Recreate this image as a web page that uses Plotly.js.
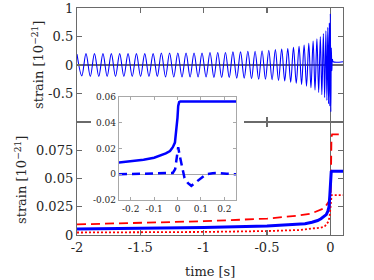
<!DOCTYPE html>
<html>
<head>
<meta charset="utf-8">
<script src="https://cdn.plot.ly/plotly-3.0.1.min.js"></script>
<style>html,body{margin:0;padding:0;background:#fff;}#chart{width:374px;height:280px;}</style>
</head>
<body>
<div id="chart"></div>
<script>
// ---- top panel: waveform extrema (time [s], strain [1e-21]) ----
const waveTime = [
  -2.000, -1.962, -1.929, -1.895, -1.862, -1.828, -1.795, -1.762, -1.729, -1.696,
  -1.663, -1.630, -1.597, -1.564, -1.531, -1.498, -1.465, -1.432, -1.399, -1.366,
  -1.334, -1.301, -1.269, -1.236, -1.204, -1.171, -1.139, -1.107, -1.076, -1.044,
  -1.013, -0.981, -0.950, -0.919, -0.889, -0.858, -0.828, -0.798, -0.769, -0.739,
  -0.709, -0.680, -0.651, -0.622, -0.594, -0.566, -0.539, -0.512, -0.486, -0.460,
  -0.434, -0.409, -0.384, -0.360, -0.336, -0.313, -0.291, -0.269, -0.247, -0.227,
  -0.207, -0.188, -0.170, -0.153, -0.136, -0.121, -0.106, -0.092, -0.079, -0.067,
  -0.055, -0.045, -0.035, -0.027, -0.020, -0.014, -0.008, -0.004, 0.000, 0.004,
  0.008, 0.012, 0.016, 0.022, 0.100
];
const waveStrain = [
  0.19, -0.19, 0.20, -0.20, 0.20, -0.20, 0.20, -0.20, 0.20, -0.20,
  0.20, -0.20, 0.20, -0.20, 0.20, -0.20, 0.20, -0.20, 0.20, -0.20,
  0.21, -0.21, 0.21, -0.21, 0.21, -0.21, 0.21, -0.21, 0.21, -0.21,
  0.21, -0.21, 0.22, -0.22, 0.22, -0.22, 0.22, -0.22, 0.23, -0.23,
  0.23, -0.23, 0.24, -0.24, 0.24, -0.25, 0.25, -0.25, 0.26, -0.26,
  0.27, -0.27, 0.28, -0.28, 0.29, -0.30, 0.31, -0.32, 0.33, -0.34,
  0.35, -0.37, 0.38, -0.40, 0.42, -0.44, 0.46, -0.48, 0.50, -0.52,
  0.55, -0.57, 0.60, -0.62, 0.66, -0.68, 0.74, -0.72, 0.90, -0.82,
  0.30, -0.10, 0.10, 0.057, 0.057
];

// ---- bottom panel / inset: memory curves ----
const solidTime = [-2, -1.5, -1, -0.5, -0.25, -0.2, -0.145, -0.1, -0.074, -0.05, -0.032, -0.02, -0.011, -0.004, 0, 0.003, 0.007, 0.012, 0.25];
const solidStrain = [0.0053, 0.0059, 0.0067, 0.0079, 0.0092, 0.0100, 0.0113, 0.0128, 0.0144, 0.0162, 0.0180, 0.0210, 0.0246, 0.0350, 0.0440, 0.0530, 0.0560, 0.0565, 0.0565];

const dashTime = [-2, -1.5, -1, -0.5, -0.25, -0.15, -0.08, -0.047, -0.016, -0.005, 0.003, 0.006, 0.009, 0.014, 0.1];
const dashStrain = [0.0094, 0.0106, 0.0122, 0.0145, 0.0172, 0.0190, 0.0220, 0.0238, 0.0290, 0.0310, 0.0360, 0.0700, 0.0870, 0.0890, 0.0890];

const dotTime = [-2, -1.5, -1, -0.5, -0.25, -0.08, -0.047, -0.03, -0.016, -0.006, 0.002, 0.006, 0.01, 0.1];
const dotStrain = [0.0022, 0.0024, 0.0027, 0.0035, 0.0044, 0.0065, 0.0073, 0.0095, 0.0118, 0.0160, 0.0280, 0.0340, 0.0353, 0.0353];

const insetDashTime = [-0.25, -0.15, -0.08, -0.04, -0.02, -0.01, -0.004, 0.0, 0.003, 0.01, 0.02, 0.03, 0.045, 0.059, 0.08, 0.1, 0.122, 0.15, 0.178, 0.21, 0.25];
const insetDashStrain = [0, 0.0002, 0.0005, 0.0008, 0.001, 0.004, 0.011, 0.017, 0.021, 0.014, 0.004, -0.003, -0.007, -0.009, -0.006, -0.003, 0, 0.0008, 0.001, 0.0004, 0];

// ---- tick labels and titles ----
const mainTimeTicks = [-2, -1.5, -1, -0.5, 0];
const mainTimeLabels = ['-2', '-1.5', '-1', '-0.5', '0'];
const topStrainTicks = [-0.5, 0, 0.5, 1];
const topStrainLabels = ['-0.5', '0', '0.5', '1'];
const botStrainTicks = [0, 0.025, 0.05, 0.075];
const botStrainLabels = ['0', '0.025', '0.05', '0.075'];
const insetTimeTicks = [-0.2, -0.1, 0, 0.1, 0.2];
const insetTimeLabels = ['-0.2', '-0.1', '0', '0.1', '0.2'];
const insetStrainTicks = [-0.02, 0, 0.02, 0.04, 0.06];
const insetStrainLabels = ['-0.02', '0', '0.02', '0.04', '0.06'];
const strainTitle = 'strain [10<sup>−21</sup>]';
const timeTitle = 'time [s]';

const BLUE = '#0000ff', RED = '#ff0000';
const FRAME = '#6a6a6a', INFRAME = '#a8a8a8', TXT = '#262626';
const FONT = 'DejaVu Serif';

const traces = [
  {x: waveTime, y: waveStrain, xaxis: 'x', yaxis: 'y', mode: 'lines',
   line: {color: BLUE, width: 1.1, shape: 'spline', smoothing: 1}, hoverinfo: 'skip'},
  {x: dotTime, y: dotStrain, xaxis: 'x2', yaxis: 'y2', mode: 'lines',
   line: {color: RED, width: 1.8, dash: '2px,2px'}, hoverinfo: 'skip'},
  {x: dashTime, y: dashStrain, xaxis: 'x2', yaxis: 'y2', mode: 'lines',
   line: {color: RED, width: 1.8, dash: '9px,5px'}, hoverinfo: 'skip'},
  {x: solidTime, y: solidStrain, xaxis: 'x2', yaxis: 'y2', mode: 'lines',
   line: {color: BLUE, width: 3}, hoverinfo: 'skip'},
  // cover layer for the inset area (hidden axes, white background)
  {x: [0.5], y: [0.5], xaxis: 'x3', yaxis: 'y3', mode: 'markers',
   marker: {opacity: 0}, hoverinfo: 'skip'},
  {x: solidTime, y: solidStrain, xaxis: 'x4', yaxis: 'y4', mode: 'lines',
   line: {color: BLUE, width: 2.5}, hoverinfo: 'skip'},
  {x: insetDashTime, y: insetDashStrain, xaxis: 'x4', yaxis: 'y4', mode: 'lines',
   line: {color: BLUE, width: 2.5, dash: '8px,5px'}, hoverinfo: 'skip'}
];

const split = 113 / 227;
const mainAxis = {
  showline: true, linecolor: FRAME, linewidth: 1.2, mirror: 'ticks',
  ticks: 'inside', ticklen: 5, tickcolor: FRAME, tickwidth: 1.2,
  showgrid: false, ticklabeloverflow: 'allow',
  tickfont: {size: 13, color: TXT, family: FONT}
};
const titleFont = {size: 13, color: TXT, family: FONT};
const layout = {
  width: 374, height: 280,
  margin: {l: 77, r: 31, t: 8, b: 45, pad: 0},
  paper_bgcolor: '#ffffff', plot_bgcolor: '#ffffff',
  showlegend: false,
  font: {family: FONT, color: TXT, size: 13},
  xaxis: Object.assign({}, mainAxis, {
    domain: [0, 1], anchor: 'y', range: [-2, 0.1],
    tickvals: mainTimeTicks, ticktext: mainTimeLabels, showticklabels: false,
    zeroline: true, zerolinecolor: FRAME, zerolinewidth: 1.5
  }),
  yaxis: Object.assign({}, mainAxis, {
    domain: [split, 1], anchor: 'x', range: [-1, 1],
    tickvals: topStrainTicks, ticktext: topStrainLabels,
    zeroline: true, zerolinecolor: FRAME, zerolinewidth: 1.5
  }),
  xaxis2: Object.assign({}, mainAxis, {
    domain: [0, 1], anchor: 'y2', range: [-2, 0.1],
    tickvals: mainTimeTicks, ticktext: mainTimeLabels,
    zeroline: true, zerolinecolor: FRAME, zerolinewidth: 1.5
  }),
  yaxis2: Object.assign({}, mainAxis, {
    domain: [0, split], anchor: 'x2', range: [0, 0.1],
    tickvals: botStrainTicks, ticktext: botStrainLabels, zeroline: false
  }),
  xaxis3: {domain: [14/266, 167/266], anchor: 'y3', range: [0, 1],
    showline: false, showticklabels: false, ticks: '', showgrid: false, zeroline: false},
  yaxis3: {domain: [19/227, 145/227], anchor: 'x3', range: [0, 1],
    showline: false, showticklabels: false, ticks: '', showgrid: false, zeroline: false},
  xaxis4: {
    domain: [42/266, 159/266], anchor: 'y4', range: [-0.25, 0.25],
    showline: true, linecolor: INFRAME, linewidth: 1.2, mirror: 'ticks',
    ticks: 'inside', ticklen: 3, tickcolor: INFRAME, tickwidth: 1,
    tickvals: insetTimeTicks, ticktext: insetTimeLabels,
    showgrid: false, zeroline: false, tickfont: {size: 9, color: TXT, family: FONT}
  },
  yaxis4: {
    domain: [35/227, 138/227], anchor: 'x4', range: [-0.02, 0.06],
    showline: true, linecolor: INFRAME, linewidth: 1.2, mirror: 'ticks',
    ticks: 'inside', ticklen: 3, tickcolor: INFRAME, tickwidth: 1,
    tickvals: insetStrainTicks, ticktext: insetStrainLabels,
    showgrid: false, zeroline: true, zerolinecolor: INFRAME, zerolinewidth: 1.5,
    tickfont: {size: 9, color: TXT, family: FONT}
  },
  annotations: [
    {text: strainTitle, xref: 'paper', yref: 'paper', x: -39/266, y: 170/227,
     xanchor: 'center', yanchor: 'middle', textangle: -90, showarrow: false, font: titleFont},
    {text: strainTitle, xref: 'paper', yref: 'paper', x: -56/266, y: 55/227,
     xanchor: 'center', yanchor: 'middle', textangle: -90, showarrow: false, font: titleFont},
    {text: timeTitle, xref: 'paper', yref: 'paper', x: 0.5, y: -36.5/227,
     xanchor: 'center', yanchor: 'middle', showarrow: false, font: titleFont}
  ]
};

Plotly.newPlot('chart', traces, layout, {staticPlot: true, displayModeBar: false});
</script>
</body>
</html>
